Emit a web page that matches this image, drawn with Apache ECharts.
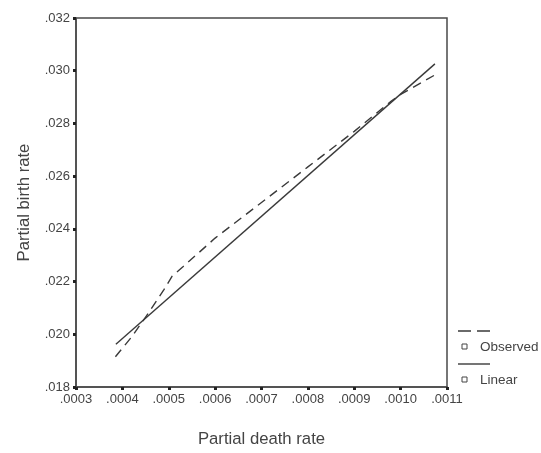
<!DOCTYPE html>
<html>
<head>
<meta charset="utf-8">
<script src="https://cdn.jsdelivr.net/npm/echarts@6/dist/echarts.min.js"></script>
<style>
  html, body { margin: 0; padding: 0; background: #fff; }
  #chart1 { width: 541px; height: 453px; }
</style>
</head>
<body>
<div id="chart1"></div>
<script>
  // observed curve (death rate, birth rate)
  var observedX = [0.000385, 0.00042, 0.000456, 0.00049, 0.000507, 0.00053, 0.0006, 0.0007, 0.0008, 0.0009, 0.00098, 0.0010, 0.00104, 0.001075];
  var observedY = [0.01915, 0.0199, 0.0208, 0.0217, 0.0222, 0.02255, 0.02365, 0.0250, 0.02635, 0.0277, 0.02885, 0.0291, 0.0295, 0.02985];
  // linear fit end points
  var linearX = [0.000386, 0.001074];
  var linearY = [0.01962, 0.03026];
  var legendNames = ['Observed', 'Linear'];

  function pairs(xs, ys) {
    var out = [];
    for (var i = 0; i < xs.length; i++) out.push([xs[i], ys[i]]);
    return out;
  }
  function noLeadZero(v, d) {
    return v.toFixed(d).replace(/^0/, '');
  }

  var lineColor = '#3a3a3a';
  var axisColor = '#4a4a4a';
  var textColor = '#444';

  var myChart1 = echarts.init(document.getElementById('chart1'));
  var option1 = {
    animation: false,
    backgroundColor: '#fff',
    grid: {
      left: 76, top: 18, width: 371, height: 369,
      show: true, borderColor: axisColor, borderWidth: 1.5, backgroundColor: 'transparent'
    },
    xAxis: {
      type: 'value',
      min: 0.0003, max: 0.0011, interval: 0.0001,
      name: 'Partial death rate',
      nameLocation: 'middle', nameGap: 44,
      nameTextStyle: { fontFamily: 'Liberation Sans', fontSize: 16.7, color: textColor },
      axisLine: { show: true, lineStyle: { color: axisColor, width: 1.5 } },
      axisTick: { show: true, length: 3, lineStyle: { color: '#222', width: 3 } },
      splitLine: { show: false },
      axisLabel: {
        margin: 6, fontFamily: 'Liberation Sans', fontSize: 13, color: textColor,
        formatter: function (v) { return noLeadZero(v, 4); }
      }
    },
    yAxis: {
      type: 'value',
      min: 0.018, max: 0.032, interval: 0.002,
      name: 'Partial birth rate',
      nameLocation: 'middle', nameGap: 43,
      nameTextStyle: { fontFamily: 'Liberation Sans', fontSize: 16.7, color: textColor },
      axisLine: { show: true, lineStyle: { color: axisColor, width: 1.5 } },
      axisTick: { show: true, length: 3, lineStyle: { color: '#222', width: 3 } },
      splitLine: { show: false },
      axisLabel: {
        margin: 6, fontFamily: 'Liberation Sans', fontSize: 13, color: textColor,
        formatter: function (v) { return noLeadZero(v, 3); }
      }
    },
    series: [
      {
        name: legendNames[0],
        type: 'line',
        showSymbol: false,
        data: pairs(observedX, observedY),
        lineStyle: { color: lineColor, width: 1.4, type: [9, 6] }
      },
      {
        name: legendNames[1],
        type: 'line',
        showSymbol: false,
        data: pairs(linearX, linearY),
        lineStyle: { color: lineColor, width: 1.4, type: 'solid' }
      }
    ],
    graphic: [
      { type: 'line', shape: { x1: 458, y1: 331, x2: 490, y2: 331 }, style: { stroke: lineColor, lineWidth: 1.4, lineDash: [13, 6] } },
      { type: 'rect', shape: { x: 462, y: 344, width: 5, height: 5 }, style: { fill: '#fff', stroke: '#444', lineWidth: 1 } },
      { type: 'text', x: 480, y: 347, style: { text: legendNames[0], fontFamily: 'Liberation Sans', fontSize: 13.5, fill: textColor, verticalAlign: 'middle' } },
      { type: 'line', shape: { x1: 458, y1: 364, x2: 490, y2: 364 }, style: { stroke: lineColor, lineWidth: 1.4 } },
      { type: 'rect', shape: { x: 462, y: 377, width: 5, height: 5 }, style: { fill: '#fff', stroke: '#444', lineWidth: 1 } },
      { type: 'text', x: 480, y: 380, style: { text: legendNames[1], fontFamily: 'Liberation Sans', fontSize: 13.5, fill: textColor, verticalAlign: 'middle' } }
    ]
  };
  myChart1.setOption(option1);
</script>
</body>
</html>
